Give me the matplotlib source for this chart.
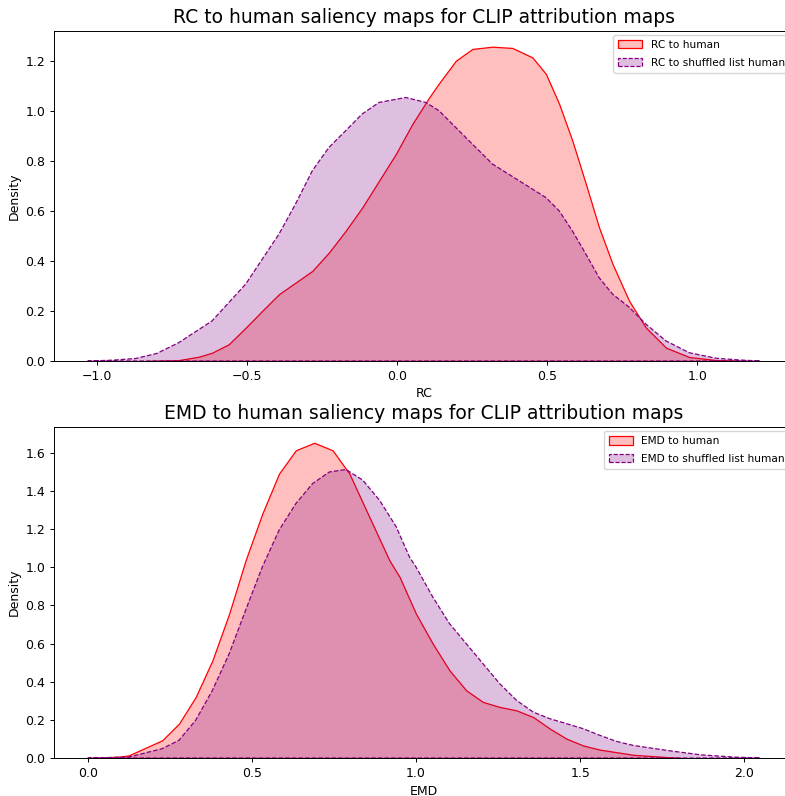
import numpy as np
import matplotlib
matplotlib.use("Agg")
import matplotlib.pyplot as plt
from matplotlib.colors import to_rgba

# density curves (x, density) for the RC comparison
rc_human_x = [-0.83, -0.73, -0.66, -0.616, -0.56, -0.504, -0.449, -0.393, -0.338, -0.282,
              -0.227, -0.171, -0.116, -0.06, -0.004, 0.051, 0.107, 0.14, 0.196, 0.251,
              0.318, 0.384, 0.451, 0.496, 0.54, 0.584, 0.629, 0.673, 0.718, 0.773,
              0.829, 0.896, 0.973, 1.06, 1.15]
rc_human_y = [0.0, 0.003, 0.017, 0.033, 0.067, 0.133, 0.2, 0.267, 0.313, 0.36,
              0.433, 0.52, 0.613, 0.72, 0.827, 0.947, 1.053, 1.11, 1.2, 1.247,
              1.256, 1.251, 1.213, 1.147, 1.027, 0.88, 0.707, 0.533, 0.387, 0.24,
              0.133, 0.053, 0.016, 0.004, 0.0]
rc_shuffled_x = [-1.03, -0.95, -0.87, -0.8, -0.727, -0.616, -0.504, -0.393, -0.338, -0.282,
                 -0.227, -0.171, -0.116, -0.06, 0.029, 0.096, 0.14, 0.229, 0.318, 0.407,
                 0.496, 0.54, 0.584, 0.629, 0.673, 0.718, 0.773, 0.829, 0.896, 0.973,
                 1.062, 1.14, 1.21]
rc_shuffled_y = [0.0, 0.003, 0.01, 0.03, 0.073, 0.16, 0.307, 0.507, 0.627, 0.76,
                 0.853, 0.92, 0.987, 1.033, 1.053, 1.033, 1.0, 0.893, 0.787, 0.72,
                 0.653, 0.6, 0.52, 0.427, 0.333, 0.267, 0.215, 0.147, 0.08, 0.033,
                 0.011, 0.004, 0.0]

# density curves for the EMD comparison
emd_human_x = [0.0, 0.05, 0.1, 0.125, 0.227, 0.278, 0.329, 0.38, 0.431, 0.481,
               0.532, 0.583, 0.634, 0.69, 0.746, 0.797, 0.858, 0.919, 0.95, 1.0,
               1.051, 1.102, 1.153, 1.204, 1.255, 1.306, 1.357, 1.408, 1.459, 1.509,
               1.56, 1.662, 1.764, 1.81]
emd_human_y = [0.0, 0.003, 0.008, 0.014, 0.093, 0.18, 0.32, 0.512, 0.757, 1.037,
               1.282, 1.492, 1.614, 1.653, 1.614, 1.492, 1.264, 1.037, 0.95, 0.757,
               0.6, 0.46, 0.355, 0.294, 0.268, 0.25, 0.215, 0.154, 0.101, 0.066,
               0.044, 0.017, 0.005, 0.0]
emd_shuffled_x = [0.0, 0.1, 0.125, 0.227, 0.278, 0.329, 0.38, 0.431, 0.481, 0.532,
                  0.583, 0.634, 0.685, 0.736, 0.787, 0.838, 0.889, 0.94, 0.98, 1.0,
                  1.051, 1.102, 1.153, 1.204, 1.255, 1.306, 1.357, 1.408, 1.459, 1.509,
                  1.56, 1.611, 1.662, 1.764, 1.866, 1.967, 2.049]
emd_shuffled_y = [0.0, 0.004, 0.005, 0.049, 0.093, 0.198, 0.355, 0.547, 0.775, 1.002,
                  1.195, 1.334, 1.439, 1.5, 1.513, 1.457, 1.352, 1.212, 1.055, 1.002,
                  0.845, 0.705, 0.6, 0.495, 0.39, 0.303, 0.241, 0.206, 0.18, 0.154,
                  0.119, 0.087, 0.066, 0.04, 0.017, 0.005, 0.0]

plt.rcParams.update({
    "font.size": 9,
    "xtick.labelsize": 9,
    "ytick.labelsize": 9,
    "axes.labelsize": 9,
    "xtick.major.size": 3.2,
    "ytick.major.size": 3.2,
    "xtick.major.width": 0.7,
    "ytick.major.width": 0.7,
    "xtick.major.pad": 3.0,
    "ytick.major.pad": 3.0,
    "axes.linewidth": 0.7,
    "axes.labelpad": 3.5,
})


def kde_fill(ax, x, y, color, ls, label):
    ax.fill_between(x, y, facecolor=to_rgba(color, 0.25), edgecolor=color,
                    linewidth=0.9, linestyle=ls, label=label)


def finish(ax, x_all, y_all, title, xlabel):
    lo, hi = min(x_all), max(x_all)
    pad = 0.05 * (hi - lo)
    ax.set_xlim(lo - pad, hi + pad)
    ax.set_ylim(0, max(y_all) * 1.05)
    ax.set_title(title, fontsize=13.5)
    ax.set_xlabel(xlabel)
    ax.set_ylabel("Density")
    ax.legend(loc="upper right", fontsize=7.6, labelspacing=0.75,
              handlelength=2.3, handleheight=0.85, handletextpad=0.8,
              borderpad=0.45, borderaxespad=0.4)


fig = plt.figure(figsize=(7.85, 7.96), dpi=100)
ax1 = fig.add_axes([0.0688, 0.5465, 0.9427, 0.4146])
ax2 = fig.add_axes([0.0688, 0.0477, 0.9427, 0.4158])

kde_fill(ax1, rc_human_x, rc_human_y, "red", "-", "RC to human")
kde_fill(ax1, rc_shuffled_x, rc_shuffled_y, "purple", "--", "RC to shuffled list human")
finish(ax1, rc_human_x + rc_shuffled_x, rc_human_y + rc_shuffled_y,
       "RC to human saliency maps for CLIP attribution maps", "RC")

kde_fill(ax2, emd_human_x, emd_human_y, "red", "-", "EMD to human")
kde_fill(ax2, emd_shuffled_x, emd_shuffled_y, "purple", "--", "EMD to shuffled list human")
finish(ax2, emd_human_x + emd_shuffled_x, emd_human_y + emd_shuffled_y,
       "EMD to human saliency maps for CLIP attribution maps", "EMD")

fig.savefig("out.png", dpi=100)
